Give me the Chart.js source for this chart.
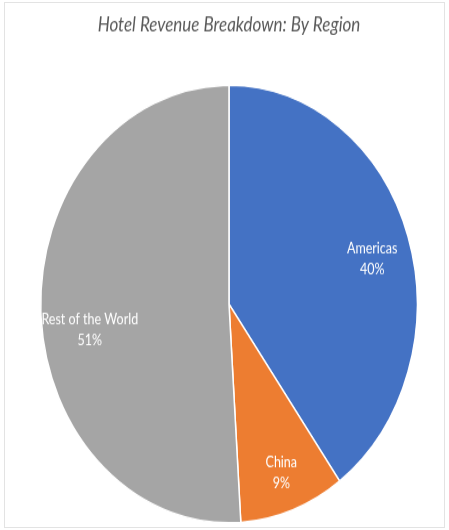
<!DOCTYPE html>
<html>
<head>
<meta charset="utf-8">
<script src="https://cdn.jsdelivr.net/npm/chart.js@4"></script>
<style>
  html, body { margin: 0; padding: 0; background: #fff; }
  #frame { position: absolute; left: 4px; top: 2px; width: 441px; height: 526px; border: 1px solid #e3e3e3; box-sizing: border-box; }
  #wrap { position: absolute; left: 0; top: 0; width: 449px; height: 456px; transform: scaleY(1.1623); transform-origin: 0 0; }
</style>
</head>
<body>
<div id="frame"></div>
<div id="wrap"><canvas id="regionPie" width="449" height="456"></canvas></div>
<script>
const regions = ['Americas', 'China', 'Rest of the World'];
const shares = [40, 9, 51];
const sliceColors = ['#4472C4', '#ED7D31', '#A5A5A5'];

// where each label sits inside its slice (fraction of radius, extra y shift)
const labelRadius = [0.80, 0.82, 0.74];
const labelShiftY = [8, 0, 18];

const sliceLabels = {
    id: 'sliceLabels',
    afterDatasetsDraw: function(chart) {
        const c = chart.ctx;
        const meta = chart.getDatasetMeta(0);
        c.save();
        c.fillStyle = '#ffffff';
        c.font = '12.5px Lato, "Noto Sans", sans-serif';
        c.textAlign = 'center';
        c.textBaseline = 'middle';
        meta.data.forEach((arc, i) => {
            const p = arc.getProps(['x', 'y', 'startAngle', 'endAngle', 'outerRadius'], true);
            const mid = (p.startAngle + p.endAngle) / 2;
            const r = p.outerRadius * labelRadius[i];
            const x = p.x + Math.cos(mid) * r;
            const y = p.y + Math.sin(mid) * r + labelShiftY[i];
            c.fillText(regions[i], x, y - 9);
            c.fillText(shares[i] + '%', x, y + 9);
        });
        c.restore();
    }
};

document.addEventListener('DOMContentLoaded', function() {
    const ctx = document.getElementById('regionPie').getContext('2d');
    new Chart(ctx, {
        type: 'pie',
        data: {
            labels: regions,
            datasets: [{
                data: shares,
                backgroundColor: sliceColors,
                borderColor: '#ffffff',
                borderWidth: 1.5
            }]
        },
        options: {
            responsive: false,
            animation: false,
            layout: { padding: { left: 40, right: 31, top: 0, bottom: 0 } },
            plugins: {
                legend: { display: false },
                tooltip: { enabled: false },
                title: {
                    display: true,
                    text: 'Hotel Revenue Breakdown: By Region',
                    color: '#595959',
                    font: { family: 'Lato, "Noto Sans", sans-serif', size: 17, style: 'italic', weight: 'normal' },
                    padding: { top: 11.3, bottom: 35.5 }
                }
            }
        },
        plugins: [sliceLabels]
    });
});
</script>
</body>
</html>
